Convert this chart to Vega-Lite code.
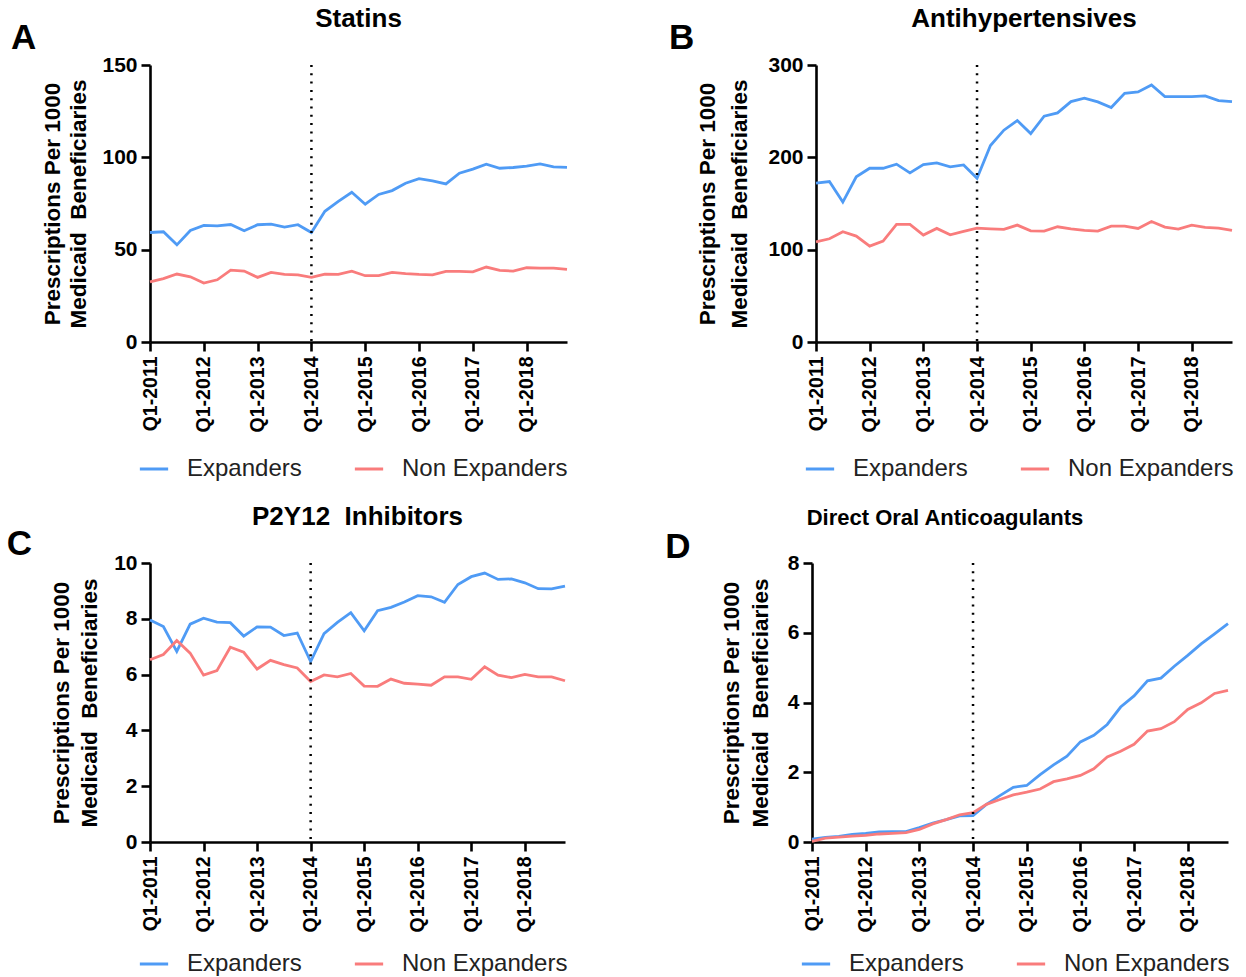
{
  "$schema": "https://vega.github.io/schema/vega-lite/v6.json",
  "background": "white",
  "padding": {"left": 6, "top": 6, "right": 2, "bottom": 2},
  "config": {
    "font": "Liberation Sans",
    "view": {"stroke": null},
    "axis": {
      "grid": false,
      "domainColor": "black",
      "domainWidth": 2.6,
      "tickColor": "black",
      "tickWidth": 2.6,
      "tickSize": 9,
      "labelColor": "black",
      "labelFont": "Liberation Sans",
      "labelFontWeight": "bold",
      "labelFontSize": 21,
      "titleColor": "black",
      "titleFont": "Liberation Sans",
      "titleFontSize": 22.5,
      "titleFontWeight": "bold",
      "titleLineHeight": 27
    },
    "axisX": {"labelAngle": -90, "labelFontSize": 19.5, "labelPadding": 5, "title": null},
    "axisY": {"labelPadding": 4},
    "legend": {
      "title": null,
      "orient": "none",
      "direction": "horizontal",
      "symbolType": "stroke",
      "symbolSize": 800,
      "symbolStrokeWidth": 3,
      "labelFont": "Liberation Sans",
      "labelFontSize": 24,
      "labelFontWeight": "normal",
      "labelColor": "#222222",
      "labelOffset": 17,
      "columnPadding": 46,
      "labelLimit": 400
    },
    "title": {"color": "black", "font": "Liberation Sans", "fontWeight": "bold"}
  },
  "datasets": {
    "main": [
      {"panel":"A","quarter":"Q1-2011","Expanders":59.3,"Non Expanders":32.6},
      {"panel":"A","quarter":"Q2-2011","Expanders":59.7,"Non Expanders":34.3},
      {"panel":"A","quarter":"Q3-2011","Expanders":52.6,"Non Expanders":36.8},
      {"panel":"A","quarter":"Q4-2011","Expanders":60.4,"Non Expanders":35.3},
      {"panel":"A","quarter":"Q1-2012","Expanders":63.1,"Non Expanders":31.9},
      {"panel":"A","quarter":"Q2-2012","Expanders":62.9,"Non Expanders":33.7},
      {"panel":"A","quarter":"Q3-2012","Expanders":63.6,"Non Expanders":38.9},
      {"panel":"A","quarter":"Q4-2012","Expanders":60.2,"Non Expanders":38.4},
      {"panel":"A","quarter":"Q1-2013","Expanders":63.5,"Non Expanders":35.0},
      {"panel":"A","quarter":"Q2-2013","Expanders":63.8,"Non Expanders":37.7},
      {"panel":"A","quarter":"Q3-2013","Expanders":62.2,"Non Expanders":36.6},
      {"panel":"A","quarter":"Q4-2013","Expanders":63.5,"Non Expanders":36.4},
      {"panel":"A","quarter":"Q1-2014","Expanders":59.3,"Non Expanders":35.0},
      {"panel":"A","quarter":"Q2-2014","Expanders":70.8,"Non Expanders":36.8},
      {"panel":"A","quarter":"Q3-2014","Expanders":76.1,"Non Expanders":36.6},
      {"panel":"A","quarter":"Q4-2014","Expanders":81.1,"Non Expanders":38.4},
      {"panel":"A","quarter":"Q1-2015","Expanders":74.6,"Non Expanders":35.9},
      {"panel":"A","quarter":"Q2-2015","Expanders":79.9,"Non Expanders":35.9},
      {"panel":"A","quarter":"Q3-2015","Expanders":82.0,"Non Expanders":37.7},
      {"panel":"A","quarter":"Q4-2015","Expanders":86.0,"Non Expanders":37.0},
      {"panel":"A","quarter":"Q1-2016","Expanders":88.5,"Non Expanders":36.6},
      {"panel":"A","quarter":"Q2-2016","Expanders":87.3,"Non Expanders":36.4},
      {"panel":"A","quarter":"Q3-2016","Expanders":85.6,"Non Expanders":38.2},
      {"panel":"A","quarter":"Q4-2016","Expanders":91.4,"Non Expanders":38.2},
      {"panel":"A","quarter":"Q1-2017","Expanders":93.6,"Non Expanders":38.0},
      {"panel":"A","quarter":"Q2-2017","Expanders":96.3,"Non Expanders":40.6},
      {"panel":"A","quarter":"Q3-2017","Expanders":94.1,"Non Expanders":38.8},
      {"panel":"A","quarter":"Q4-2017","Expanders":94.5,"Non Expanders":38.4},
      {"panel":"A","quarter":"Q1-2018","Expanders":95.2,"Non Expanders":40.2},
      {"panel":"A","quarter":"Q2-2018","Expanders":96.4,"Non Expanders":40.0},
      {"panel":"A","quarter":"Q3-2018","Expanders":94.8,"Non Expanders":40.0},
      {"panel":"A","quarter":"Q4-2018","Expanders":94.6,"Non Expanders":39.3},
      {"panel":"B","quarter":"Q1-2011","Expanders":172.0,"Non Expanders":108.5},
      {"panel":"B","quarter":"Q2-2011","Expanders":173.8,"Non Expanders":111.8},
      {"panel":"B","quarter":"Q3-2011","Expanders":151.5,"Non Expanders":119.4},
      {"panel":"B","quarter":"Q4-2011","Expanders":178.9,"Non Expanders":114.7},
      {"panel":"B","quarter":"Q1-2012","Expanders":188.2,"Non Expanders":103.9},
      {"panel":"B","quarter":"Q2-2012","Expanders":188.2,"Non Expanders":109.3},
      {"panel":"B","quarter":"Q3-2012","Expanders":192.6,"Non Expanders":127.3},
      {"panel":"B","quarter":"Q4-2012","Expanders":183.2,"Non Expanders":127.3},
      {"panel":"B","quarter":"Q1-2013","Expanders":192.2,"Non Expanders":115.8},
      {"panel":"B","quarter":"Q2-2013","Expanders":194.0,"Non Expanders":123.0},
      {"panel":"B","quarter":"Q3-2013","Expanders":189.7,"Non Expanders":116.1},
      {"panel":"B","quarter":"Q4-2013","Expanders":191.8,"Non Expanders":119.7},
      {"panel":"B","quarter":"Q1-2014","Expanders":177.4,"Non Expanders":123.3},
      {"panel":"B","quarter":"Q2-2014","Expanders":212.8,"Non Expanders":122.6},
      {"panel":"B","quarter":"Q3-2014","Expanders":229.4,"Non Expanders":121.9},
      {"panel":"B","quarter":"Q4-2014","Expanders":239.8,"Non Expanders":126.6},
      {"panel":"B","quarter":"Q1-2015","Expanders":225.7,"Non Expanders":120.4},
      {"panel":"B","quarter":"Q2-2015","Expanders":244.5,"Non Expanders":120.1},
      {"panel":"B","quarter":"Q3-2015","Expanders":248.1,"Non Expanders":124.8},
      {"panel":"B","quarter":"Q4-2015","Expanders":260.4,"Non Expanders":122.6},
      {"panel":"B","quarter":"Q1-2016","Expanders":264.0,"Non Expanders":120.8},
      {"panel":"B","quarter":"Q2-2016","Expanders":260.0,"Non Expanders":120.1},
      {"panel":"B","quarter":"Q3-2016","Expanders":253.9,"Non Expanders":125.5},
      {"panel":"B","quarter":"Q4-2016","Expanders":269.4,"Non Expanders":125.5},
      {"panel":"B","quarter":"Q1-2017","Expanders":270.8,"Non Expanders":123.0},
      {"panel":"B","quarter":"Q2-2017","Expanders":278.4,"Non Expanders":130.5},
      {"panel":"B","quarter":"Q3-2017","Expanders":265.8,"Non Expanders":124.4},
      {"panel":"B","quarter":"Q4-2017","Expanders":265.8,"Non Expanders":122.2},
      {"panel":"B","quarter":"Q1-2018","Expanders":265.8,"Non Expanders":126.6},
      {"panel":"B","quarter":"Q2-2018","Expanders":266.5,"Non Expanders":124.1},
      {"panel":"B","quarter":"Q3-2018","Expanders":261.5,"Non Expanders":123.3},
      {"panel":"B","quarter":"Q4-2018","Expanders":260.4,"Non Expanders":120.8},
      {"panel":"C","quarter":"Q1-2011","Expanders":7.96,"Non Expanders":6.53},
      {"panel":"C","quarter":"Q2-2011","Expanders":7.72,"Non Expanders":6.72},
      {"panel":"C","quarter":"Q3-2011","Expanders":6.83,"Non Expanders":7.22},
      {"panel":"C","quarter":"Q4-2011","Expanders":7.81,"Non Expanders":6.77},
      {"panel":"C","quarter":"Q1-2012","Expanders":8.02,"Non Expanders":5.98},
      {"panel":"C","quarter":"Q2-2012","Expanders":7.88,"Non Expanders":6.14},
      {"panel":"C","quarter":"Q3-2012","Expanders":7.86,"Non Expanders":6.98},
      {"panel":"C","quarter":"Q4-2012","Expanders":7.38,"Non Expanders":6.80},
      {"panel":"C","quarter":"Q1-2013","Expanders":7.71,"Non Expanders":6.20},
      {"panel":"C","quarter":"Q2-2013","Expanders":7.70,"Non Expanders":6.51},
      {"panel":"C","quarter":"Q3-2013","Expanders":7.40,"Non Expanders":6.36},
      {"panel":"C","quarter":"Q4-2013","Expanders":7.49,"Non Expanders":6.24},
      {"panel":"C","quarter":"Q1-2014","Expanders":6.47,"Non Expanders":5.75},
      {"panel":"C","quarter":"Q2-2014","Expanders":7.47,"Non Expanders":5.99},
      {"panel":"C","quarter":"Q3-2014","Expanders":7.87,"Non Expanders":5.92},
      {"panel":"C","quarter":"Q4-2014","Expanders":8.22,"Non Expanders":6.04},
      {"panel":"C","quarter":"Q1-2015","Expanders":7.57,"Non Expanders":5.59},
      {"panel":"C","quarter":"Q2-2015","Expanders":8.29,"Non Expanders":5.58},
      {"panel":"C","quarter":"Q3-2015","Expanders":8.41,"Non Expanders":5.84},
      {"panel":"C","quarter":"Q4-2015","Expanders":8.60,"Non Expanders":5.69},
      {"panel":"C","quarter":"Q1-2016","Expanders":8.83,"Non Expanders":5.66},
      {"panel":"C","quarter":"Q2-2016","Expanders":8.79,"Non Expanders":5.62},
      {"panel":"C","quarter":"Q3-2016","Expanders":8.59,"Non Expanders":5.92},
      {"panel":"C","quarter":"Q4-2016","Expanders":9.23,"Non Expanders":5.92},
      {"panel":"C","quarter":"Q1-2017","Expanders":9.51,"Non Expanders":5.83},
      {"panel":"C","quarter":"Q2-2017","Expanders":9.64,"Non Expanders":6.28},
      {"panel":"C","quarter":"Q3-2017","Expanders":9.41,"Non Expanders":5.98},
      {"panel":"C","quarter":"Q4-2017","Expanders":9.43,"Non Expanders":5.89},
      {"panel":"C","quarter":"Q1-2018","Expanders":9.29,"Non Expanders":6.01},
      {"panel":"C","quarter":"Q2-2018","Expanders":9.08,"Non Expanders":5.92},
      {"panel":"C","quarter":"Q3-2018","Expanders":9.07,"Non Expanders":5.92},
      {"panel":"C","quarter":"Q4-2018","Expanders":9.17,"Non Expanders":5.78},
      {"panel":"D","quarter":"Q1-2011","Expanders":0.08,"Non Expanders":0.02},
      {"panel":"D","quarter":"Q2-2011","Expanders":0.13,"Non Expanders":0.11},
      {"panel":"D","quarter":"Q3-2011","Expanders":0.16,"Non Expanders":0.14},
      {"panel":"D","quarter":"Q4-2011","Expanders":0.22,"Non Expanders":0.17},
      {"panel":"D","quarter":"Q1-2012","Expanders":0.25,"Non Expanders":0.19},
      {"panel":"D","quarter":"Q2-2012","Expanders":0.29,"Non Expanders":0.23},
      {"panel":"D","quarter":"Q3-2012","Expanders":0.30,"Non Expanders":0.25},
      {"panel":"D","quarter":"Q4-2012","Expanders":0.30,"Non Expanders":0.27},
      {"panel":"D","quarter":"Q1-2013","Expanders":0.41,"Non Expanders":0.36},
      {"panel":"D","quarter":"Q2-2013","Expanders":0.54,"Non Expanders":0.52},
      {"panel":"D","quarter":"Q3-2013","Expanders":0.64,"Non Expanders":0.64},
      {"panel":"D","quarter":"Q4-2013","Expanders":0.75,"Non Expanders":0.78},
      {"panel":"D","quarter":"Q1-2014","Expanders":0.76,"Non Expanders":0.84},
      {"panel":"D","quarter":"Q2-2014","Expanders":1.08,"Non Expanders":1.08},
      {"panel":"D","quarter":"Q3-2014","Expanders":1.33,"Non Expanders":1.22},
      {"panel":"D","quarter":"Q4-2014","Expanders":1.57,"Non Expanders":1.35},
      {"panel":"D","quarter":"Q1-2015","Expanders":1.62,"Non Expanders":1.43},
      {"panel":"D","quarter":"Q2-2015","Expanders":1.93,"Non Expanders":1.52},
      {"panel":"D","quarter":"Q3-2015","Expanders":2.21,"Non Expanders":1.73},
      {"panel":"D","quarter":"Q4-2015","Expanders":2.46,"Non Expanders":1.81},
      {"panel":"D","quarter":"Q1-2016","Expanders":2.87,"Non Expanders":1.91},
      {"panel":"D","quarter":"Q2-2016","Expanders":3.06,"Non Expanders":2.10},
      {"panel":"D","quarter":"Q3-2016","Expanders":3.37,"Non Expanders":2.44},
      {"panel":"D","quarter":"Q4-2016","Expanders":3.87,"Non Expanders":2.60},
      {"panel":"D","quarter":"Q1-2017","Expanders":4.19,"Non Expanders":2.80},
      {"panel":"D","quarter":"Q2-2017","Expanders":4.62,"Non Expanders":3.18},
      {"panel":"D","quarter":"Q3-2017","Expanders":4.70,"Non Expanders":3.25},
      {"panel":"D","quarter":"Q4-2017","Expanders":5.04,"Non Expanders":3.45},
      {"panel":"D","quarter":"Q1-2018","Expanders":5.35,"Non Expanders":3.80},
      {"panel":"D","quarter":"Q2-2018","Expanders":5.68,"Non Expanders":3.99},
      {"panel":"D","quarter":"Q3-2018","Expanders":5.97,"Non Expanders":4.26},
      {"panel":"D","quarter":"Q4-2018","Expanders":6.26,"Non Expanders":4.35}
    ],
    "expansion": [{"quarter": "Q1-2014"}]
  },
  "resolve": {"scale": {"color": "independent", "x": "independent", "y": "independent"}, "legend": {"color": "independent"}},
  "spacing": 23,
  "vconcat": [
    {
      "resolve": {"scale": {"color": "independent", "x": "independent", "y": "independent"}, "legend": {"color": "independent"}},
      "spacing": 95,
      "hconcat": [
        {
          "title": {"text": "A", "anchor": "start", "frame": "bounds", "fontSize": 35, "dx": -31, "dy": 50, "offset": 0},
          "resolve": {"scale": {"color": "independent"}, "legend": {"color": "independent"}},
          "vconcat": [
            {
              "width": 417, "height": 277,
              "title": {"text": "Statins", "fontSize": 26, "anchor": "middle", "frame": "group", "offset": 22},
              "layer": [
                {
                  "data": {"name": "main"},
                  "transform": [{"filter": "datum.panel == 'A'"}, {"fold": ["Expanders", "Non Expanders"], "as": ["group", "value"]}],
                  "mark": {"type": "line", "strokeWidth": 2.8},
                  "encoding": {
                    "x": {"field": "quarter", "type": "ordinal", "scale": {"type": "point", "padding": 0, "domain": ["Q1-2011","Q2-2011","Q3-2011","Q4-2011","Q1-2012","Q2-2012","Q3-2012","Q4-2012","Q1-2013","Q2-2013","Q3-2013","Q4-2013","Q1-2014","Q2-2014","Q3-2014","Q4-2014","Q1-2015","Q2-2015","Q3-2015","Q4-2015","Q1-2016","Q2-2016","Q3-2016","Q4-2016","Q1-2017","Q2-2017","Q3-2017","Q4-2017","Q1-2018","Q2-2018","Q3-2018","Q4-2018"]}, "axis": {"values": ["Q1-2011","Q1-2012","Q1-2013","Q1-2014","Q1-2015","Q1-2016","Q1-2017","Q1-2018"]}},
                    "y": {"field": "value", "type": "quantitative", "scale": {"domain": [0, 150], "nice": false}, "axis": {"values": [0, 50, 100, 150], "title": ["Prescriptions Per 1000", "Medicaid\u00a0 Beneficiaries"], "titlePadding": 11, "titleLineHeight": 26}},
                    "color": {"field": "group", "type": "nominal", "scale": {"domain": ["Expanders", "Non Expanders"], "range": ["#4F9BF5", "#F97C7C"]}, "legend": {"legendX": -12, "legendY": 388}}
                  }
                },
                {
                  "data": {"name": "expansion"},
                  "mark": {"type": "rule", "color": "black", "strokeWidth": 2.5, "strokeDash": [2, 6.3]},
                  "encoding": {"x": {"field": "quarter", "type": "ordinal"}}
                }
              ]
            }
          ]
        },
        {
          "title": {"text": "B", "anchor": "start", "frame": "bounds", "fontSize": 35, "dx": -28, "dy": 50, "offset": 0},
          "resolve": {"scale": {"color": "independent"}, "legend": {"color": "independent"}},
          "vconcat": [
            {
              "width": 416, "height": 277,
              "title": {"text": "Antihypertensives", "fontSize": 26, "anchor": "middle", "frame": "group", "offset": 22},
              "layer": [
                {
                  "data": {"name": "main"},
                  "transform": [{"filter": "datum.panel == 'B'"}, {"fold": ["Expanders", "Non Expanders"], "as": ["group", "value"]}],
                  "mark": {"type": "line", "strokeWidth": 2.8},
                  "encoding": {
                    "x": {"field": "quarter", "type": "ordinal", "scale": {"type": "point", "padding": 0, "domain": ["Q1-2011","Q2-2011","Q3-2011","Q4-2011","Q1-2012","Q2-2012","Q3-2012","Q4-2012","Q1-2013","Q2-2013","Q3-2013","Q4-2013","Q1-2014","Q2-2014","Q3-2014","Q4-2014","Q1-2015","Q2-2015","Q3-2015","Q4-2015","Q1-2016","Q2-2016","Q3-2016","Q4-2016","Q1-2017","Q2-2017","Q3-2017","Q4-2017","Q1-2018","Q2-2018","Q3-2018","Q4-2018"]}, "axis": {"values": ["Q1-2011","Q1-2012","Q1-2013","Q1-2014","Q1-2015","Q1-2016","Q1-2017","Q1-2018"]}},
                    "y": {"field": "value", "type": "quantitative", "scale": {"domain": [0, 300], "nice": false}, "axis": {"values": [0, 100, 200, 300], "title": ["Prescriptions Per 1000", "Medicaid\u00a0 Beneficiaries"], "titlePadding": 16, "titleLineHeight": 32}},
                    "color": {"field": "group", "type": "nominal", "scale": {"domain": ["Expanders", "Non Expanders"], "range": ["#4F9BF5", "#F97C7C"]}, "legend": {"legendX": -12, "legendY": 388}}
                  }
                },
                {
                  "data": {"name": "expansion"},
                  "mark": {"type": "rule", "color": "black", "strokeWidth": 2.5, "strokeDash": [2, 6.3]},
                  "encoding": {"x": {"field": "quarter", "type": "ordinal"}}
                }
              ]
            }
          ]
        }
      ]
    },
    {
      "resolve": {"scale": {"color": "independent", "x": "independent", "y": "independent"}, "legend": {"color": "independent"}},
      "spacing": 94,
      "hconcat": [
        {
          "title": {"text": "C", "anchor": "start", "frame": "bounds", "fontSize": 35, "dx": -44, "dy": 58, "offset": 0},
          "resolve": {"scale": {"color": "independent"}, "legend": {"color": "independent"}},
          "vconcat": [
            {
              "width": 415, "height": 279,
              "title": {"text": "P2Y12\u00a0 Inhibitors", "fontSize": 26, "anchor": "middle", "frame": "group", "offset": 22},
              "layer": [
                {
                  "data": {"name": "main"},
                  "transform": [{"filter": "datum.panel == 'C'"}, {"fold": ["Expanders", "Non Expanders"], "as": ["group", "value"]}],
                  "mark": {"type": "line", "strokeWidth": 2.8},
                  "encoding": {
                    "x": {"field": "quarter", "type": "ordinal", "scale": {"type": "point", "padding": 0, "domain": ["Q1-2011","Q2-2011","Q3-2011","Q4-2011","Q1-2012","Q2-2012","Q3-2012","Q4-2012","Q1-2013","Q2-2013","Q3-2013","Q4-2013","Q1-2014","Q2-2014","Q3-2014","Q4-2014","Q1-2015","Q2-2015","Q3-2015","Q4-2015","Q1-2016","Q2-2016","Q3-2016","Q4-2016","Q1-2017","Q2-2017","Q3-2017","Q4-2017","Q1-2018","Q2-2018","Q3-2018","Q4-2018"]}, "axis": {"values": ["Q1-2011","Q1-2012","Q1-2013","Q1-2014","Q1-2015","Q1-2016","Q1-2017","Q1-2018"]}},
                    "y": {"field": "value", "type": "quantitative", "scale": {"domain": [0, 10], "nice": false}, "axis": {"values": [0, 2, 4, 6, 8, 10], "title": ["Prescriptions Per 1000", "Medicaid\u00a0 Beneficiaries"], "titlePadding": 12, "titleLineHeight": 28}},
                    "color": {"field": "group", "type": "nominal", "scale": {"domain": ["Expanders", "Non Expanders"], "range": ["#4F9BF5", "#F97C7C"]}, "legend": {"legendX": -12, "legendY": 385}}
                  }
                },
                {
                  "data": {"name": "expansion"},
                  "mark": {"type": "rule", "color": "black", "strokeWidth": 2.5, "strokeDash": [2, 6.3]},
                  "encoding": {"x": {"field": "quarter", "type": "ordinal"}}
                }
              ]
            }
          ]
        },
        {
          "title": {"text": "D", "anchor": "start", "frame": "bounds", "fontSize": 35, "dx": -55, "dy": 58, "offset": 0},
          "resolve": {"scale": {"color": "independent"}, "legend": {"color": "independent"}},
          "vconcat": [
            {
              "width": 416, "height": 279,
              "title": {"text": "Direct Oral Anticoagulants", "fontSize": 22, "anchor": "middle", "frame": "group", "offset": 22, "dx": -75},
              "layer": [
                {
                  "data": {"name": "main"},
                  "transform": [{"filter": "datum.panel == 'D'"}, {"fold": ["Expanders", "Non Expanders"], "as": ["group", "value"]}],
                  "mark": {"type": "line", "strokeWidth": 2.8},
                  "encoding": {
                    "x": {"field": "quarter", "type": "ordinal", "scale": {"type": "point", "padding": 0, "domain": ["Q1-2011","Q2-2011","Q3-2011","Q4-2011","Q1-2012","Q2-2012","Q3-2012","Q4-2012","Q1-2013","Q2-2013","Q3-2013","Q4-2013","Q1-2014","Q2-2014","Q3-2014","Q4-2014","Q1-2015","Q2-2015","Q3-2015","Q4-2015","Q1-2016","Q2-2016","Q3-2016","Q4-2016","Q1-2017","Q2-2017","Q3-2017","Q4-2017","Q1-2018","Q2-2018","Q3-2018","Q4-2018"]}, "axis": {"values": ["Q1-2011","Q1-2012","Q1-2013","Q1-2014","Q1-2015","Q1-2016","Q1-2017","Q1-2018"]}},
                    "y": {"field": "value", "type": "quantitative", "scale": {"domain": [0, 8], "nice": false}, "axis": {"values": [0, 2, 4, 6, 8], "title": ["Prescriptions Per 1000", "Medicaid\u00a0 Beneficiaries"], "titlePadding": 15, "titleLineHeight": 29}},
                    "color": {"field": "group", "type": "nominal", "scale": {"domain": ["Expanders", "Non Expanders"], "range": ["#4F9BF5", "#F97C7C"]}, "legend": {"legendX": -12, "legendY": 385}}
                  }
                },
                {
                  "data": {"name": "expansion"},
                  "mark": {"type": "rule", "color": "black", "strokeWidth": 2.5, "strokeDash": [2, 6.3]},
                  "encoding": {"x": {"field": "quarter", "type": "ordinal"}}
                }
              ]
            }
          ]
        }
      ]
    }
  ]
}
